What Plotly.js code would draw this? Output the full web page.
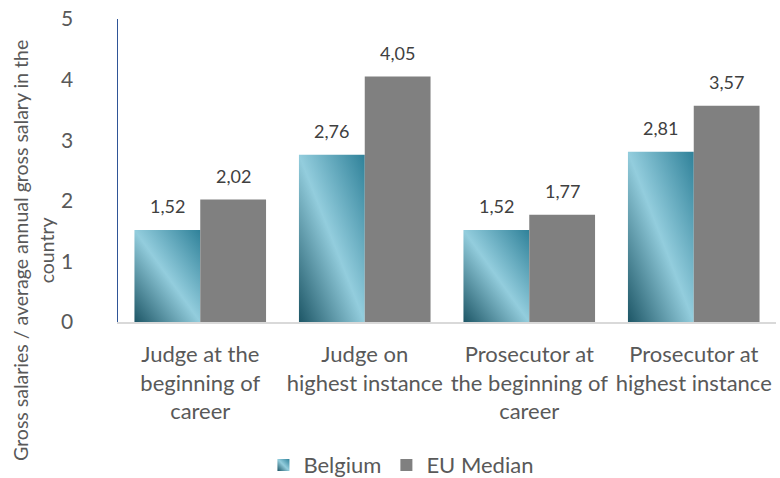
<!DOCTYPE html>
<html><head><meta charset="utf-8">
<script src="https://cdn.plot.ly/plotly-3.0.1.min.js"></script>
<style>body{margin:0;background:#fff}#chart{width:780px;height:478px}</style>
</head><body>
<svg width="0" height="0" style="position:absolute">
  <defs>
    <linearGradient id="belgGrad" x1="0" y1="1" x2="1" y2="0">
      <stop offset="0" stop-color="#1d5666"/>
      <stop offset="0.5" stop-color="#93cddd"/>
      <stop offset="1" stop-color="#2f8199"/>
    </linearGradient>
  </defs>
</svg>
<div id="chart"></div>
<script>
const categories = ["Judge at the<br>beginning of<br>career", "Judge on<br>highest instance", "Prosecutor at<br>the beginning of<br>career", "Prosecutor at<br>highest instance"];
const belgium = [1.52, 2.76, 1.52, 2.81];
const euMedian = [2.02, 4.05, 1.77, 3.57];
const yTicks = [0, 1, 2, 3, 4, 5];
const yTitle = "Gross salaries / average annual gross salary in the<br>country";

const FONT = "Lato, 'Open Sans', sans-serif";
const W = 780, H = 478, M = {l: 118, r: 4, t: 19, b: 156};
const BARGAP = 0.2;
const catPx = (W - M.l - M.r) / categories.length;
const halfBar = catPx * (1 - BARGAP) / 4;

const traces = [
  {type: "bar", name: "Belgium", x: categories, y: belgium, marker: {color: "#5fa8bd"}},
  {type: "bar", name: "EU Median", x: categories, y: euMedian, marker: {color: "#808080"}}
];
const fmt = v => v.toFixed(2).replace(".", ",");
const labelAnns = [];
categories.forEach((c, i) => {
  [[belgium, -halfBar], [euMedian, halfBar]].forEach(([arr, dx]) => {
    labelAnns.push({x: c, y: arr[i], xref: "x", yref: "y", text: fmt(arr[i]), showarrow: false,
      xanchor: "center", yanchor: "bottom", xshift: dx, yshift: 11,
      font: {size: 18, color: "#404040", family: FONT}});
  });
});

const layout = {
  width: W, height: H,
  margin: M,
  separators: ",.",
  font: {family: FONT, color: "#595959", size: 18},
  paper_bgcolor: "#fff", plot_bgcolor: "#fff",
  barmode: "group", bargap: BARGAP, bargroupgap: 0,
  showlegend: true,
  legend: {orientation: "h", x: 0.43, xanchor: "center", yref: "container", y: 0.027, yanchor: "middle",
           font: {size: 22, color: "#595959"}, itemwidth: 30, traceorder: "normal"},
  xaxis: {type: "category", tickangle: 0, showline: true, linecolor: "#d9d9d9", linewidth: 1.5,
          ticks: "", ticklabelstandoff: 12, automargin: false,
          tickfont: {size: 22, color: "#595959"}, showgrid: false},
  yaxis: {range: [0, 5], tickvals: yTicks, ticktext: yTicks.map(String), showgrid: false,
          zeroline: false, showline: true, linecolor: "#2f5597", linewidth: 1.5, ticks: "",
          ticklabelstandoff: 39, automargin: false,
          tickfont: {size: 21, color: "#595959"}},
  annotations: [{text: yTitle, xref: "paper", yref: "paper", x: -0.129, y: 0.235,
                 xanchor: "center", yanchor: "middle", textangle: -90, showarrow: false,
                 font: {size: 19.5, color: "#595959", family: FONT}}].concat(labelAnns)
};
Plotly.newPlot("chart", traces, layout, {displayModeBar: false, staticPlot: true}).then(function(gd){
  const bars = gd.querySelectorAll(".barlayer .trace")[0].querySelectorAll("path");
  bars.forEach(p => p.style.fill = "url(#belgGrad)");
  const legPts = gd.querySelectorAll(".legend .traces")[0].querySelectorAll(".legendpoints path");
  legPts.forEach(p => p.style.fill = "url(#belgGrad)");
});
</script>
</body></html>
